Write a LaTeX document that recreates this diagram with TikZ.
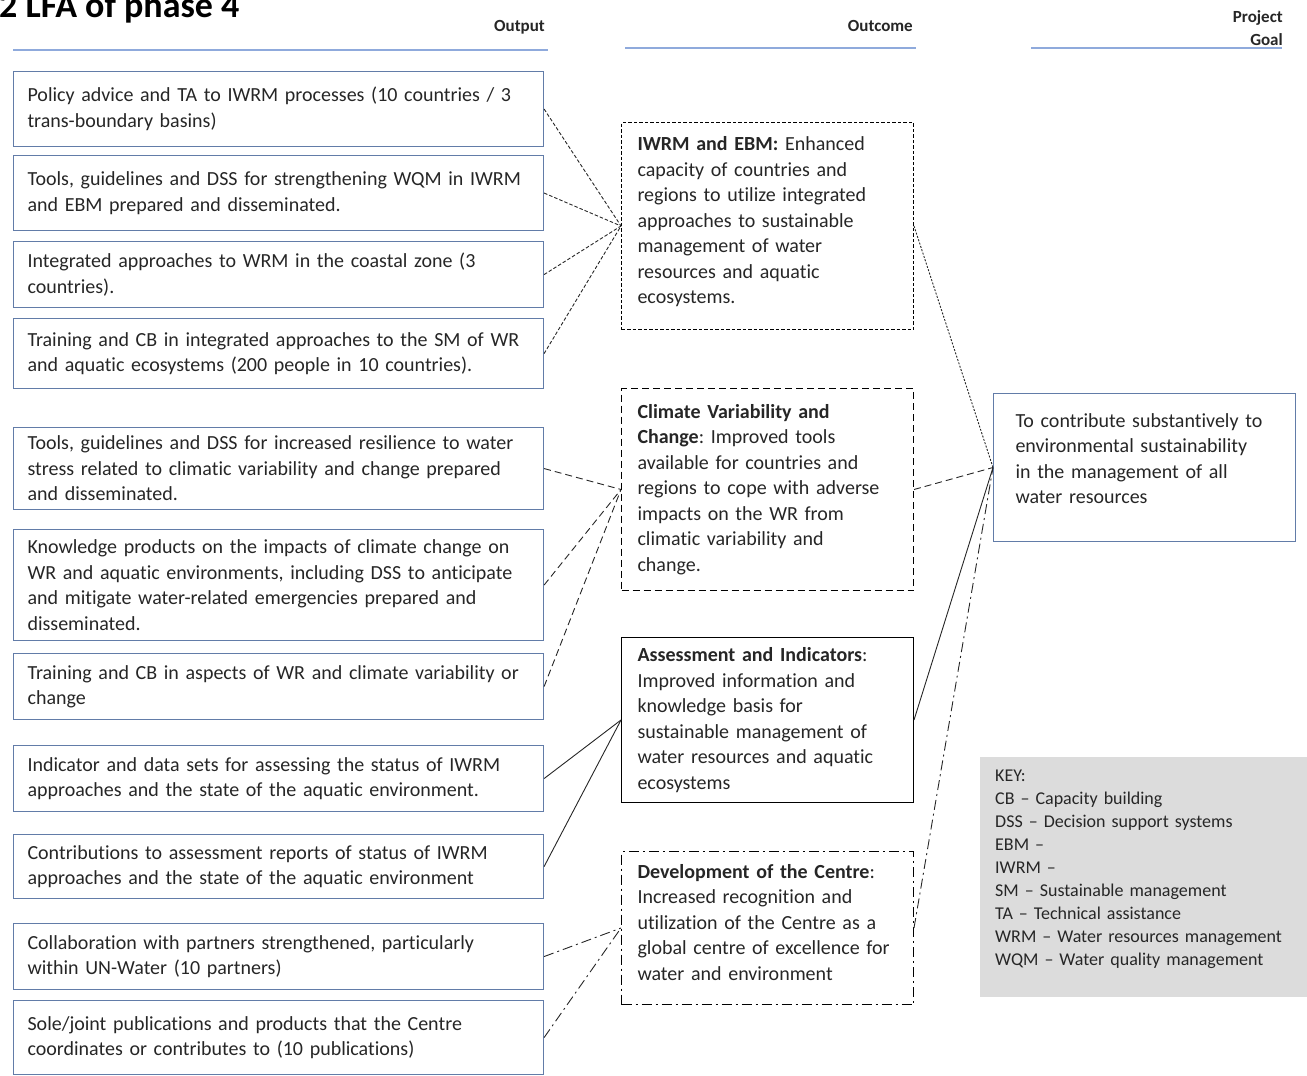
\documentclass[tikz,border=0pt]{standalone}
\usepackage{fontspec}
\setmainfont{Carlito}[Ligatures=NoCommon]
\usepackage{xcolor}
\usepackage{tikz}

\definecolor{boxblue}{RGB}{98,124,168}
\definecolor{lineblue}{RGB}{143,170,220}
\definecolor{keygray}{RGB}{220,220,220}
\definecolor{textgray}{RGB}{38,38,38}

\hyphenpenalty=10000
\exhyphenpenalty=10000
\frenchspacing

\begin{document}
\begin{tikzpicture}[x=1pt, y=-1pt,
    output/.style={draw=boxblue, line width=1.1pt, anchor=north west, minimum width=530pt, text width=502pt, inner xsep=14pt, inner ysep=3pt, align=left, text=textgray, font=\fontsize{20}{25.5}\selectfont},
    outcome/.style={draw=black, line width=1pt, anchor=north west, text width=260pt, inner xsep=16pt, inner ysep=3pt, align=left, text=textgray, font=\fontsize{20}{25.5}\selectfont},
    header/.style={font=\fontsize{17}{23}\selectfont\bfseries, text=textgray, inner sep=0pt},
    headline/.style={draw=lineblue, line width=1.5pt},
    link/.style={draw=black!85, line width=0.9pt},
    fine/.style={dash pattern=on 3.5pt off 2pt},
    dense/.style={dash pattern=on 2pt off 1.5pt},
    long/.style={dash pattern=on 7pt off 4pt},
    dashdot/.style={dash pattern=on 10pt off 4pt on 2pt off 4pt}]

    \useasboundingbox (0,0) rectangle (1307,1076);

    % Titel und Spaltenkoepfe
    \node (title) at (-1,17) [anchor=base west, inner sep=0pt, font=\fontsize{36}{40}\selectfont\bfseries] {2 LFA of phase 4};
    \node (hOutput) at (545,31.5) [header, anchor=base east] {Output};
    \node (hOutcome) at (913,31.5) [header, anchor=base east] {Outcome};
    \node (hGoal) at (1283,45.5) [header, anchor=base east, align=right] {Project\\Goal};
    \draw[headline] (13,50) -- (548,50);
    \draw[headline] (625,48) -- (916,48);
    \draw[headline] (1031,48) -- (1282,48);

    % Outputs
    \node (output1) at (13,71) [output, minimum height=75pt] {Policy advice and TA to IWRM processes (10 countries / 3\\trans-boundary basins)};
    \node (output2) at (13,155) [output, minimum height=75pt] {Tools, guidelines and DSS for strengthening WQM in IWRM\\and EBM prepared and disseminated.};
    \node (output3) at (13,241) [output, minimum height=66pt] {Integrated approaches to WRM in the coastal zone (3\\countries).};
    \node (output4) at (13,318) [output, minimum height=70pt] {Training and CB in integrated approaches to the SM of WR\\and aquatic ecosystems (200 people in 10 countries).};
    \node (output5) at (13,427) [output, minimum height=82pt] {Tools, guidelines and DSS for increased resilience to water\\stress related to climatic variability and change prepared\\and disseminated.};
    \node (output6) at (13,529) [output, minimum height=111pt] {Knowledge products on the impacts of climate change on\\WR and aquatic environments, including DSS to anticipate\\and mitigate water-related emergencies prepared and\\disseminated.};
    \node (output7) at (13,653) [output, minimum height=66pt] {Training and CB in aspects of WR and climate variability or\\change};
    \node (output8) at (13,745) [output, minimum height=66pt] {Indicator and data sets for assessing the status of IWRM\\approaches and the state of the aquatic environment.};
    \node (output9) at (13,834) [output, minimum height=64pt] {Contributions to assessment reports of status of IWRM\\approaches and the state of the aquatic environment};
    \node (output10) at (13,923) [output, minimum height=66pt] {Collaboration with partners strengthened, particularly\\within UN-Water (10 partners)};
    \node (output11) at (13,1000) [output, minimum height=74pt] {Sole/joint publications and products that the Centre\\coordinates or contributes to (10 publications)};

    % Outcomes
    \node (iwrm) at (621,122) [outcome, fine, minimum height=207pt] {\textbf{IWRM and EBM:} Enhanced\\capacity of countries and\\regions to utilize integrated\\approaches to sustainable\\management of water\\resources and aquatic\\ecosystems.\\[-13.5pt]~};
    \node (climate) at (621,388) [outcome, long, minimum height=202pt] {\textbf{Climate Variability and}\\\textbf{Change}: Improved tools\\available for countries and\\regions to cope with adverse\\impacts on the WR from\\climatic variability and\\change.};
    \node (assessment) at (621,637) [outcome, minimum height=165pt] {\textbf{Assessment and Indicators}:\\Improved information and\\knowledge basis for\\sustainable management of\\water resources and aquatic\\ecosystems};
    \node (centre) at (621,851) [outcome, dashdot, minimum height=153pt] {\textbf{Development of the Centre}:\\Increased recognition and\\utilization of the Centre as a\\global centre of excellence for\\water and environment\\[-13.5pt]~};

    % Projektziel
    \node (goal) at (993,393) [outcome, draw=boxblue, text width=258pt, inner xsep=22pt, minimum height=148pt] {To contribute substantively to\\environmental sustainability\\in the management of all\\water resources\\[-7.5pt]~};

    % Legende
    \node (key) at (980,757) [anchor=north west, fill=keygray, minimum width=327pt, minimum height=240pt, text width=297pt, inner xsep=15pt, align=left, text=textgray, font=\fontsize{18}{23}\selectfont] {KEY:\\CB -- Capacity building\\DSS -- Decision support systems\\EBM --\\IWRM --\\SM -- Sustainable management\\TA -- Technical assistance\\WRM -- Water resources management\\WQM -- Water quality management\\[-4pt]~};

    % Outputs zu Outcomes
    \draw[link, fine] (output1.east) -- (iwrm.west);
    \draw[link, fine] (output2.east) -- (iwrm.west);
    \draw[link, fine] (output3.east) -- (iwrm.west);
    \draw[link, fine] (output4.east) -- (iwrm.west);
    \draw[link, long] (output5.east) -- (climate.west);
    \draw[link, long] (output6.east) -- (climate.west);
    \draw[link, long] (output7.east) -- (climate.west);
    \draw[link] (output8.east) -- (assessment.west);
    \draw[link] (output9.east) -- (assessment.west);
    \draw[link, dashdot] (output10.east) -- (centre.west);
    \draw[link, dashdot] (output11.east) -- (centre.west);

    % Outcomes zum Ziel
    \draw[link, dense] (iwrm.east) -- (goal.west);
    \draw[link, long] (climate.east) -- (goal.west);
    \draw[link] (assessment.east) -- (goal.west);
    \draw[link, dashdot] (centre.east) -- (goal.west);

\end{tikzpicture}
\end{document}
